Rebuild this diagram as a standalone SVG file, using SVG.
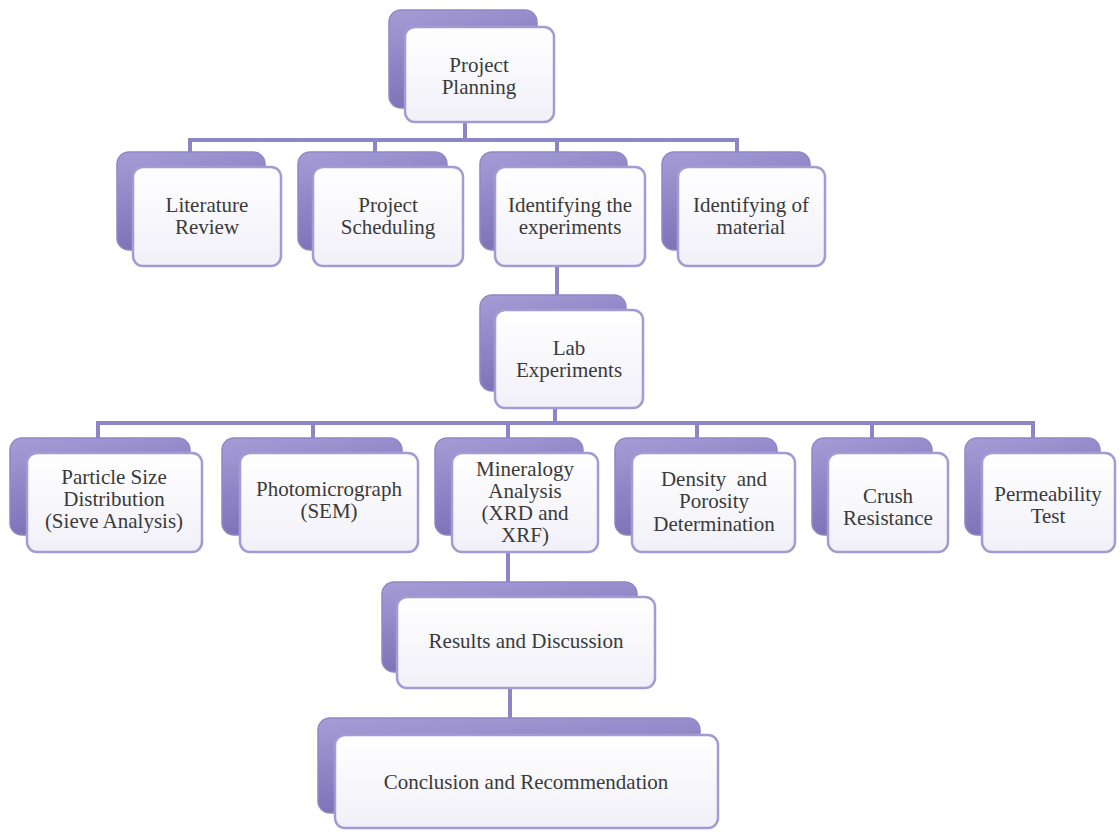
<svg xmlns="http://www.w3.org/2000/svg" width="1120" height="832" viewBox="0 0 1120 832">
<defs>
<linearGradient id="gb" x1="0" y1="0" x2="0.35" y2="1">
<stop offset="0" stop-color="#a69dd6"/>
<stop offset="0.5" stop-color="#8f85c6"/>
<stop offset="1" stop-color="#7a6fb4"/>
</linearGradient>
<linearGradient id="gf" x1="0" y1="0" x2="0" y2="1">
<stop offset="0" stop-color="#ffffff"/>
<stop offset="1" stop-color="#f1f0f8"/>
</linearGradient>
</defs>
<style>
.b{fill:url(#gb);stroke:#9088c6;stroke-width:1.5}
.f{fill:url(#gf);stroke:#a39bd2;stroke-width:2.5}
.c{stroke:#8d86c4;stroke-width:4;fill:none}
text{font-family:"Liberation Serif","Times New Roman",serif;font-size:21px;fill:#3a3a3a;text-anchor:middle}
</style>
<rect width="1120" height="832" fill="#ffffff"/>
<g id="connectors">
<path class="c" d="M465,122V140M190,140H737M190,138V152M375,138V152M557,138V152M737,138V152"/>
<path class="c" d="M557,266V295"/>
<path class="c" d="M555,408V423M98,423H1033M98,421V438M313,421V438M508,421V438M697,421V438M872,421V438M1033,421V438"/>
<path class="c" d="M508,552V582M510,688V718"/>
</g>
<g id="n-planning">
<rect class="b" x="389" y="10" width="148" height="98" rx="12"/>
<rect class="f" x="405" y="27" width="149" height="95" rx="10"/>
<text x="479" y="72">Project</text><text x="479" y="94">Planning</text>
</g>
<g id="n-literature">
<rect class="b" x="117" y="152" width="148" height="98" rx="12"/>
<rect class="f" x="133" y="167" width="148" height="99" rx="10"/>
<text x="207" y="212">Literature</text><text x="207" y="234">Review</text>
</g>
<g id="n-scheduling">
<rect class="b" x="298" y="152" width="149" height="98" rx="12"/>
<rect class="f" x="313" y="167" width="150" height="99" rx="10"/>
<text x="388" y="212">Project</text><text x="388" y="234">Scheduling</text>
</g>
<g id="n-experiments">
<rect class="b" x="480" y="152" width="147" height="98" rx="12"/>
<rect class="f" x="495" y="167" width="150" height="99" rx="10"/>
<text x="570" y="212">Identifying the</text><text x="570" y="234">experiments</text>
</g>
<g id="n-material">
<rect class="b" x="662" y="152" width="148" height="98" rx="12"/>
<rect class="f" x="678" y="167" width="147" height="99" rx="10"/>
<text x="751" y="212">Identifying of</text><text x="751" y="234">material</text>
</g>
<g id="n-lab">
<rect class="b" x="480" y="295" width="146" height="96" rx="12"/>
<rect class="f" x="495" y="310" width="148" height="98" rx="10"/>
<text x="569" y="355">Lab</text><text x="569" y="377">Experiments</text>
</g>
<g id="n-particle">
<rect class="b" x="10" y="438" width="180" height="97" rx="12"/>
<rect class="f" x="27" y="453" width="175" height="99" rx="10"/>
<text x="114" y="484">Particle Size</text><text x="114" y="506">Distribution</text><text x="114" y="528">(Sieve Analysis)</text>
</g>
<g id="n-photo">
<rect class="b" x="222" y="438" width="180" height="97" rx="12"/>
<rect class="f" x="240" y="453" width="178" height="99" rx="10"/>
<text x="329" y="496">Photomicrograph</text><text x="329" y="518">(SEM)</text>
</g>
<g id="n-mineralogy">
<rect class="b" x="435" y="438" width="148" height="97" rx="12"/>
<rect class="f" x="452" y="453" width="146" height="99" rx="10"/>
<text x="525" y="476">Mineralogy</text><text x="525" y="498">Analysis</text><text x="525" y="520">(XRD and</text><text x="525" y="542">XRF)</text>
</g>
<g id="n-density">
<rect class="b" x="615" y="438" width="162" height="97" rx="12"/>
<rect class="f" x="632" y="453" width="163" height="99" rx="10"/>
<text x="714" y="486" xml:space="preserve">Density  and</text><text x="714" y="508">Porosity</text><text x="714" y="531">Determination</text>
</g>
<g id="n-crush">
<rect class="b" x="812" y="438" width="120" height="97" rx="12"/>
<rect class="f" x="828" y="453" width="120" height="99" rx="10"/>
<text x="888" y="503">Crush</text><text x="888" y="525">Resistance</text>
</g>
<g id="n-permeability">
<rect class="b" x="965" y="438" width="135" height="97" rx="12"/>
<rect class="f" x="982" y="453" width="133" height="99" rx="10"/>
<text x="1048" y="501">Permeability</text><text x="1048" y="523">Test</text>
</g>
<g id="n-results">
<rect class="b" x="382" y="582" width="255" height="90" rx="12"/>
<rect class="f" x="397" y="597" width="258" height="91" rx="10"/>
<text x="526" y="648">Results and Discussion</text>
</g>
<g id="n-conclusion">
<rect class="b" x="318" y="718" width="382" height="95" rx="12"/>
<rect class="f" x="335" y="735" width="383" height="93" rx="10"/>
<text x="526" y="789">Conclusion and Recommendation</text>
</g>
</svg>
